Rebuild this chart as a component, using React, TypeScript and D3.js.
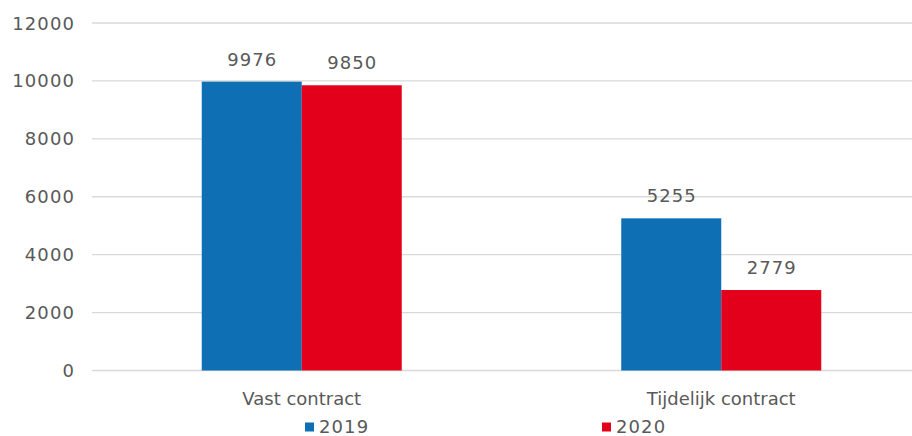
import React from "react";
import * as d3 from "d3";

const categories = ["Vast contract", "Tijdelijk contract"];
const seriesNames = ["2019", "2020"];
const values2019 = [9976, 5255];
const values2020 = [9850, 2779];
const yTicks = [0, 2000, 4000, 6000, 8000, 10000, 12000];
const colors = ["#0F6FB5", "#E3001B"];

export default function App() {
  const W = 912, H = 436;
  const plotLeft = 92, plotRight = 931;
  const y = d3.scaleLinear().domain([0, 12000]).range([370.5, 23]);
  const x0 = d3.scaleBand().domain(categories).range([plotLeft, plotRight]).paddingInner(0).paddingOuter(0);
  const barW = 100;
  const series = [values2019, values2020];
  const font = "DejaVu Sans, Verdana, sans-serif";
  const textColor = "#595959";
  const fs = 18;
  const numLs = 1.1;
  return (
    <svg width={W} height={H} style={{ position: "absolute", left: 0, top: 0, background: "#fff" }}>
      {yTicks.map((t) => (
        <g key={t}>
          <line x1={plotLeft} x2={W} y1={y(t)} y2={y(t)} stroke="#d9d9d9" strokeWidth={1.3} />
          <text x={75} y={y(t) + 6.5} textAnchor="end" fontFamily={font} fontSize={fs} letterSpacing={numLs} fill={textColor}>
            {t}
          </text>
        </g>
      ))}
      {categories.map((c, ci) => {
        const center = (x0(c) as number) + x0.bandwidth() / 2;
        return (
          <g key={c}>
            {series.map((s, si) => {
              const bx = center - barW + si * barW;
              return (
                <g key={si}>
                  <rect x={bx} y={y(s[ci])} width={barW} height={y(0) - y(s[ci])} fill={colors[si]} />
                  <text x={bx + barW / 2 + numLs / 2} y={y(s[ci]) - 16} textAnchor="middle" fontFamily={font} fontSize={fs} letterSpacing={numLs} fill={textColor}>
                    {s[ci]}
                  </text>
                </g>
              );
            })}
            <text x={center} y={405} textAnchor="middle" fontFamily={font} fontSize={fs} fill={textColor}>
              {c}
            </text>
          </g>
        );
      })}
      {seriesNames.map((n, i) => {
        const lx = [305, 602][i];
        return (
          <g key={n}>
            <rect x={lx} y={422.5} width={9} height={9} fill={colors[i]} />
            <text x={lx + 14} y={433} fontFamily={font} fontSize={fs} letterSpacing={numLs} fill={textColor}>
              {n}
            </text>
          </g>
        );
      })}
    </svg>
  );
}
